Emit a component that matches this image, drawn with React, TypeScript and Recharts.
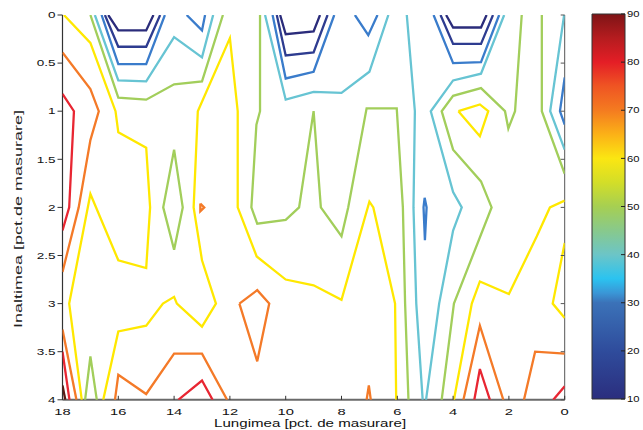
import React from "react";
import { ComposedChart, Scatter, XAxis, YAxis, BarChart, Bar } from "recharts";

type Pt = [number, number];

// ---------- axes / labels ----------
const xTicks = [0, 2, 4, 6, 8, 10, 12, 14, 16, 18];
const yTicks = [0, 0.5, 1, 1.5, 2, 2.5, 3, 3.5, 4];
const cbTicks = [10, 20, 30, 40, 50, 60, 70, 80, 90];
const xTitle = "Lungimea [pct. de masurare]";
const yTitle = "Inaltimea [pct.de masurare]";

// ---------- contour lines (x = Lungimea, y = Inaltimea) ----------
const level15: Pt[][] = [
  [[16.36, 0], [16, 0.16], [15, 0.16], [14.74, 0]],
  [[10.2, 0], [10, 0.2], [9, 0.17], [8.77, 0]],
  [[4.25, 0], [4, 0.13], [3, 0.13], [2.8, 0]],
];

const level20: Pt[][] = [
  [[16.48, 0], [16, 0.33], [15, 0.33], [14.5, 0]],
  [[10.32, 0], [10, 0.42], [9, 0.39], [8.5, 0]],
  [[4.45, 0], [4, 0.3], [3, 0.3], [2.57, 0]],
];

const level30: Pt[][] = [
  [[16.6, 0], [16, 0.51], [15, 0.51], [14.33, 0]],
  [[13.55, 0], [13, 0.16], [12.89, 0]],
  [[10.47, 0], [10, 0.66], [9, 0.59], [8.26, 0]],
  [[7.52, 0], [7.04, 0.21], [6.71, 0]],
  [[4.7, 0], [4, 0.5], [3, 0.49], [2.35, 0]],
  [[0, 0.65], [0.17, 1], [0, 1.14]],
  [[5.02, 1.9], [4.95, 2], [5.01, 2.34], [5.06, 2], [5.02, 1.9]],
];

const level40: Pt[][] = [
  [[16.84, 0], [16, 0.68], [15, 0.69], [14, 0.23], [13, 0.44], [12.6, 0]],
  [[10.74, 0], [10, 0.88], [9, 0.8], [8, 0.81], [7, 0.59], [6.32, 0]],
  [[5.66, 0], [5.37, 1], [5.42, 2], [5.32, 3], [5.09, 4]],
  [[2.17, 0], [3, 0.61], [4, 0.68], [4.8, 1], [4, 1.84], [3.69, 2], [4, 2.24], [4.5, 3], [4.97, 4]],
  [[0.02, 0], [0.52, 1], [0, 1.4]],
];

const level50: Pt[][] = [
  [[17, 0], [16, 0.86], [15, 0.88], [14, 0.72], [13, 0.69], [12.25, 0]],
  [[14, 1.4], [14.39, 2], [14, 2.44], [13.69, 2], [14, 1.4]],
  [[10.92, 0], [10.92, 1], [11.05, 1.14], [11.23, 2], [11.02, 2.17], [10, 2.13], [9.52, 2], [9, 1],
   [8.74, 2], [8, 2.3], [7.76, 2], [7.1, 0.97], [6.02, 0.97], [5.8, 2], [5.72, 3], [5.6, 4]],
  [[1.54, 0], [1.78, 1], [2.02, 1.18], [2.14, 1], [3, 0.76], [4, 0.84], [4.41, 1], [4, 1.4],
   [3, 1.73], [2.62, 2], [3.97, 3], [4.41, 4]],
  [[0.82, 0], [0.82, 1], [0, 1.65]],
  [[17.19, 4], [17, 3.55], [16.77, 4]],
];

const level60: Pt[][] = [
  [[17.95, 0], [17, 0.29], [16.1, 1], [16, 1.22], [15, 1.38], [14.86, 2], [15, 2.63], [16, 2.55],
   [17, 1.86], [17.76, 3], [17.31, 4]],
  [[16.54, 4], [16, 3.29], [15, 3.23], [14.4, 3], [14, 2.93], [13.9, 3], [13, 3.24], [12.5, 3],
   [13, 2.55], [13.3, 2], [13.15, 1], [12, 0.24], [11.72, 1], [11.72, 2], [11.04, 2.51], [10, 2.75],
   [9, 2.81], [8, 2.96], [7, 1.94], [6.86, 2], [6.08, 3], [6.04, 4]],
  [[3.81, 1], [3.04, 0.93], [2.74, 1], [3.04, 1.26], [3.81, 1]],
  [[0, 1.93], [0.53, 2], [1, 2.3], [2, 2.9], [3.04, 2.77], [3.33, 3], [3.97, 4]],
  [[0, 2.37], [0.43, 3], [0, 3.15]],
];

const level70: Pt[][] = [
  [[18, 0.39], [17, 0.77], [16.7, 1], [17, 1.3], [17.42, 2], [18, 2.67]],
  [[18, 3.27], [17.5, 4]],
  [[16.12, 4], [16, 3.74], [15, 3.94], [14, 3.52], [13, 3.52], [12.1, 4]],
  [[11.66, 3], [11.02, 2.86], [10.59, 3], [11.02, 3.6], [11.66, 3]],
  [[13.06, 1.96], [12.92, 2], [13.06, 2.04], [13.06, 1.96]],
  [[7.1, 4], [7.02, 3.85], [6.95, 4]],
  [[3.63, 4], [3.04, 3.23], [2.2, 4]],
  [[1.46, 4], [1.06, 3.5], [0, 3.52]],
];

const level80: Pt[][] = [
  [[18, 0.82], [17.59, 1], [17.76, 2], [18, 2.24]],
  [[18, 3.5], [17.75, 4]],
  [[13.85, 4], [13, 3.8], [12.62, 4]],
  [[3.24, 4], [3.04, 3.68], [2.68, 4]],
  [[0.41, 4], [0, 3.86]],
];

const level90: Pt[][] = [
  [[18, 3.85], [17.9, 4]],
];

const colorbarData = [{ name: "cb", range: [10, 90] }];

// ---------- styling ----------
const FONT = '"Liberation Sans", Arial, Helvetica, sans-serif';
const contourSets = [
  { color: "#2b2c7b", lines: level15 },
  { color: "#2e3c90", lines: level20 },
  { color: "#3a7ccb", lines: level30 },
  { color: "#67c4d3", lines: level40 },
  { color: "#a2ce5b", lines: level50 },
  { color: "#ffe800", lines: level60 },
  { color: "#f47a28", lines: level70 },
  { color: "#e82632", lines: level80 },
  { color: "#5a1a14", lines: level90 },
];

const gradStops: [number, string][] = [
  [90, "#7e1416"], [85, "#b51c1f"], [80, "#e41e26"], [75, "#ef5523"], [70, "#f47b20"],
  [65, "#fbb117"], [60, "#fbe612"], [55, "#d3de28"], [50, "#a6cf52"], [45, "#88c98c"],
  [40, "#6cc5c7"], [35, "#2bc3f0"], [32, "#3a96d6"], [30, "#3b72b8"], [20, "#2f4c9c"],
  [10, "#2b2e7e"],
];

const stretch = (x: number, s: number) => `translate(${x} 0) scale(${s} 1) translate(${-x} 0)`;

function BottomTick(p: any) {
  const { x, y, payload } = p;
  return (
    <g>
      <line x1={x} x2={x} y1={y} y2={y - 4} stroke="#333" strokeWidth={1} />
      <text x={x} y={y + 15} textAnchor="middle" fontSize={9.5} fontFamily={FONT} fill="#111"
        transform={stretch(x, 1.55)}>{payload.value}</text>
    </g>
  );
}
function TopTick(p: any) {
  const { x, y } = p;
  return <line x1={x} x2={x} y1={y} y2={y + 4} stroke="#333" strokeWidth={1} />;
}
function LeftTick(p: any) {
  const { x, y, payload } = p;
  return (
    <g>
      <line x1={x - 5} x2={x} y1={y} y2={y} stroke="#333" strokeWidth={1} />
      <text x={x - 7} y={y + 3.3} textAnchor="end" fontSize={9} fontFamily={FONT} fill="#111"
        transform={stretch(x - 7, 1.5)}>{payload.value}</text>
    </g>
  );
}
function RightTick(p: any) {
  const { x, y } = p;
  return <line x1={x - 4} x2={x} y1={y} y2={y} stroke="#555" strokeWidth={1} />;
}
function CbRightTick(p: any) {
  const { x, y, payload } = p;
  return (
    <g>
      <line x1={x - 4} x2={x} y1={y} y2={y} stroke="#222" strokeWidth={1} />
      <text x={x + 2} y={y + 3.2} textAnchor="start" fontSize={9} fontFamily={FONT} fill="#111"
        transform={stretch(x + 2, 1.25)}>{payload.value}</text>
    </g>
  );
}
function CbLeftTick(p: any) {
  const { x, y } = p;
  return <line x1={x} x2={x + 4} y1={y} y2={y} stroke="#222" strokeWidth={1} />;
}

function XTitle(p: any) {
  const vb = p.viewBox || { x: 62.5, width: 502.2 };
  const cx = vb.x + vb.width / 2 - 3.5;
  return (
    <text x={cx} y={427} textAnchor="middle" fontSize={10} fontFamily={FONT} fill="#111"
      textLength={192} lengthAdjust="spacingAndGlyphs">{xTitle}</text>
  );
}
function YTitle() {
  const cx = 22;
  const cy = 219;
  return (
    <text x={cx} y={cy} textAnchor="middle" fontSize={10.5} fontFamily={FONT} fill="#222"
      transform={`rotate(-90 ${cx} ${cy})`} textLength={218} lengthAdjust="spacingAndGlyphs">{yTitle}</text>
  );
}

const noShape = () => <g />;

export default function App() {
  return (
    <div style={{ position: "absolute", left: 0, top: 0, width: 643, height: 430, background: "#fff", overflow: "hidden" }}>
      <div style={{ position: "absolute", left: 0, top: 0 }}>
        <ComposedChart width={643} height={430} margin={{ top: 15, right: 77.3, bottom: 0, left: 0 }}>
          <XAxis xAxisId="b" dataKey="x" type="number" domain={[0, 18]} reversed allowDataOverflow
            ticks={xTicks} interval={0} orientation="bottom" height={30.2} tickSize={0} tickMargin={0}
            tickLine={false} tick={BottomTick} axisLine={{ stroke: "#6a6a6a", strokeWidth: 2 }}
            label={{ content: XTitle }} />
          <XAxis xAxisId="t" dataKey="x" type="number" domain={[0, 18]} reversed allowDataOverflow
            ticks={xTicks} interval={0} orientation="top" height={0} tickSize={0} tickMargin={0}
            tickLine={false} tick={TopTick} axisLine={{ stroke: "#333", strokeWidth: 1 }} />
          <YAxis yAxisId="l" dataKey="y" type="number" domain={[0, 4]} reversed allowDataOverflow
            ticks={yTicks} interval={0} orientation="left" width={62.5} tickSize={0} tickMargin={0}
            tickLine={false} tick={LeftTick} axisLine={{ stroke: "#333", strokeWidth: 1.2 }}
            label={{ content: YTitle }} />
          <YAxis yAxisId="r" dataKey="y" type="number" domain={[0, 4]} reversed allowDataOverflow
            ticks={yTicks} interval={0} orientation="right" width={1} tickSize={0} tickMargin={0}
            tickLine={false} tick={RightTick} axisLine={{ stroke: "#555", strokeWidth: 1 }} />
          {contourSets.map((set, si) =>
            set.lines.map((ln, li) => (
              <Scatter
                key={`c${si}-${li}`}
                xAxisId="b"
                yAxisId="l"
                data={ln.map(([x, y]) => ({ x, y }))}
                dataKey="y"
                fill={set.color}
                line={{ stroke: set.color, strokeWidth: 2.3 }}
                lineType="joint"
                shape={noShape}
                legendType="none"
                isAnimationActive={false}
              />
            ))
          )}
        </ComposedChart>
      </div>
      <div style={{ position: "absolute", left: 585, top: 0 }}>
        <BarChart width={58} height={430} data={colorbarData} margin={{ top: 14, right: 0, bottom: 31, left: 0 }}
          barCategoryGap={0} barGap={0}>
          <defs>
            <linearGradient id="cbGrad" x1="0" y1="0" x2="0" y2="1">
              {gradStops.map(([v, c]) => (
                <stop key={v} offset={`${((90 - v) / 80) * 100}%`} stopColor={c} />
              ))}
            </linearGradient>
          </defs>
          <XAxis dataKey="name" type="category" hide />
          <YAxis yAxisId="cl" type="number" domain={[10, 90]} ticks={cbTicks} interval={0} orientation="left"
            width={7} tickSize={0} tickMargin={0} tickLine={false} tick={CbLeftTick} axisLine={false} />
          <YAxis yAxisId="cr" type="number" domain={[10, 90]} ticks={cbTicks} interval={0} orientation="right"
            width={18} tickSize={0} tickMargin={0} tickLine={false} tick={CbRightTick} axisLine={false} />
          <Bar yAxisId="cr" dataKey="range" fill="url(#cbGrad)" stroke="#333" strokeWidth={1} isAnimationActive={false} />
        </BarChart>
      </div>
    </div>
  );
}
